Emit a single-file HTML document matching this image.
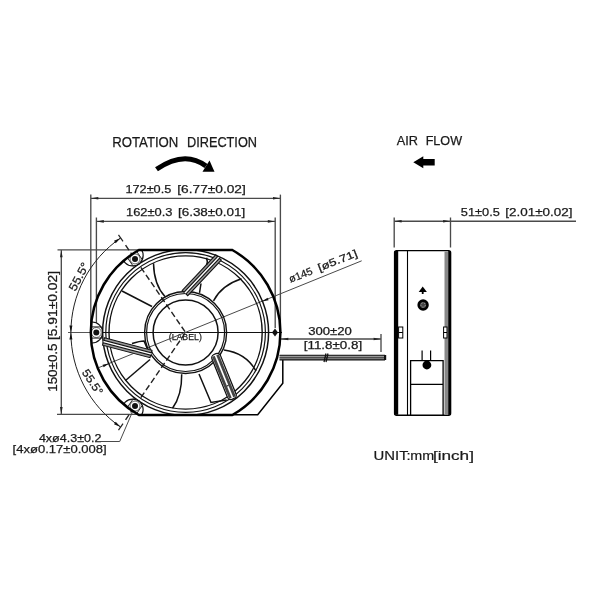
<!DOCTYPE html>
<html><head><meta charset="utf-8"><style>
html,body{margin:0;padding:0;background:#fff;}
svg{display:block;filter:grayscale(100%);}
</style></head><body>
<svg width="600" height="600" viewBox="0 0 600 600">
<rect width="600" height="600" fill="#fff"/>
<g font-family="Liberation Sans, sans-serif" fill="#1a1a1a" stroke="#1a1a1a" stroke-width="0.25">
<text x="112.25" y="146.70" font-size="14.24" textLength="66.09" lengthAdjust="spacingAndGlyphs" >ROTATION</text>
<text x="186.95" y="146.70" font-size="14.24" textLength="70.08" lengthAdjust="spacingAndGlyphs" >DIRECTION</text>
<text x="396.68" y="145.10" font-size="12.94" textLength="21.22" lengthAdjust="spacingAndGlyphs" >AIR</text>
<text x="425.67" y="145.10" font-size="12.94" textLength="36.38" lengthAdjust="spacingAndGlyphs" >FLOW</text>
<text x="125.43" y="192.80" font-size="11.48" textLength="45.85" lengthAdjust="spacingAndGlyphs" >172±0.5</text>
<text x="177.32" y="192.80" font-size="11.48" textLength="68.45" lengthAdjust="spacingAndGlyphs" >[6.77±0.02]</text>
<text x="126.02" y="215.80" font-size="11.48" textLength="46.45" lengthAdjust="spacingAndGlyphs" >162±0.3</text>
<text x="177.94" y="215.80" font-size="11.48" textLength="67.22" lengthAdjust="spacingAndGlyphs" >[6.38±0.01]</text>
<text x="460.89" y="215.75" font-size="11.56" textLength="38.95" lengthAdjust="spacingAndGlyphs" >51±0.5</text>
<text x="505.34" y="215.75" font-size="11.56" textLength="67.11" lengthAdjust="spacingAndGlyphs" >[2.01±0.02]</text>
<text x="308.25" y="335.40" font-size="10.17" textLength="43.56" lengthAdjust="spacingAndGlyphs" >300±20</text>
<text x="303.76" y="349.40" font-size="10.76" textLength="58.43" lengthAdjust="spacingAndGlyphs" >[11.8±0.8]</text>
<text x="373.50" y="460.40" font-size="13.01" textLength="37.20" lengthAdjust="spacingAndGlyphs" stroke-width="0.2">UNIT:</text>
<text x="410.35" y="460.40" font-size="13.01" textLength="23.90" lengthAdjust="spacingAndGlyphs" stroke-width="0.2">mm</text>
<text x="432.98" y="460.40" font-size="13.01" textLength="40.94" lengthAdjust="spacingAndGlyphs" stroke-width="0.2">[inch]</text>
<text x="38.91" y="442.30" font-size="10.76" textLength="62.52" lengthAdjust="spacingAndGlyphs" >4xø4.3±0.2</text>
<text x="12.57" y="453.30" font-size="11.77" textLength="94.06" lengthAdjust="spacingAndGlyphs" >[4xø0.17±0.008]</text>
<g transform="translate(56.7,600) rotate(-90)">
<text x="208.18" y="0.00" font-size="13.08" textLength="48.38" lengthAdjust="spacingAndGlyphs" >150±0.5</text>
<text x="260.02" y="0.00" font-size="13.08" textLength="68.97" lengthAdjust="spacingAndGlyphs" >[5.91±0.02]</text>
</g>
<g transform="translate(291,283.5) rotate(-21.5)">
<text x="-0.23" y="-0.80" font-size="10.47" textLength="24.69" lengthAdjust="spacingAndGlyphs" >ø145</text>
<text x="31.05" y="-0.80" font-size="10.47" textLength="41.40" lengthAdjust="spacingAndGlyphs" >[ø5.71]</text>
</g>
<g transform="translate(75.5,291.5) rotate(-62)">
<text x="-0.52" y="0.00" font-size="11.63" textLength="30.29" lengthAdjust="spacingAndGlyphs" >55.5°</text>
</g>
<g transform="translate(81.7,373) rotate(56)">
<text x="-0.48" y="0.00" font-size="11.34" textLength="28.20" lengthAdjust="spacingAndGlyphs" >55.5°</text>
</g>
<text x="168.76" y="340.00" font-size="9.88" textLength="33.09" lengthAdjust="spacingAndGlyphs" >(LABEL)</text>
</g>
<line x1="90.80" y1="194.60" x2="90.80" y2="332.00" stroke="#4a4a4a" stroke-width="1.35" />
<line x1="280.40" y1="194.60" x2="280.40" y2="332.00" stroke="#4a4a4a" stroke-width="1.35" />
<line x1="91.00" y1="198.30" x2="280.40" y2="198.30" stroke="#4a4a4a" stroke-width="1.35" />
<polygon points="91.30,198.30 98.30,197.00 98.30,199.60" fill="#222"/>
<polygon points="280.00,198.30 273.00,199.60 273.00,197.00" fill="#222"/>
<line x1="96.40" y1="217.50" x2="96.40" y2="328.00" stroke="#4a4a4a" stroke-width="1.35" />
<line x1="275.20" y1="217.50" x2="275.20" y2="328.00" stroke="#4a4a4a" stroke-width="1.35" />
<line x1="96.40" y1="221.40" x2="275.20" y2="221.40" stroke="#4a4a4a" stroke-width="1.35" />
<polygon points="96.80,221.40 103.80,220.10 103.80,222.70" fill="#222"/>
<polygon points="274.80,221.40 267.80,222.70 267.80,220.10" fill="#222"/>
<line x1="57.50" y1="249.80" x2="138.00" y2="249.80" stroke="#4a4a4a" stroke-width="1.35" />
<line x1="57.00" y1="414.40" x2="138.00" y2="414.40" stroke="#4a4a4a" stroke-width="1.35" />
<line x1="61.30" y1="250.00" x2="61.30" y2="414.40" stroke="#4a4a4a" stroke-width="1.35" />
<polygon points="61.30,250.30 62.60,257.30 60.00,257.30" fill="#222"/>
<polygon points="61.30,414.00 60.00,407.00 62.60,407.00" fill="#222"/>
<line x1="394.20" y1="217.50" x2="394.20" y2="247.50" stroke="#4a4a4a" stroke-width="1.35" />
<line x1="450.50" y1="217.50" x2="450.50" y2="247.50" stroke="#4a4a4a" stroke-width="1.35" />
<line x1="394.20" y1="221.20" x2="576.00" y2="221.20" stroke="#4a4a4a" stroke-width="1.35" />
<polygon points="394.60,221.20 401.60,219.90 401.60,222.50" fill="#222"/>
<polygon points="450.10,221.20 443.10,222.50 443.10,219.90" fill="#222"/>
<line x1="281.00" y1="339.00" x2="381.00" y2="339.00" stroke="#4a4a4a" stroke-width="1.35" />
<line x1="381.00" y1="334.00" x2="381.00" y2="352.00" stroke="#4a4a4a" stroke-width="1.35" />
<polygon points="281.30,339.00 288.30,337.70 288.30,340.30" fill="#222"/>
<polygon points="380.60,339.00 373.60,340.30 373.60,337.70" fill="#222"/>
<polyline points="101,441.5 119.7,441.5 134.7,406.7" fill="none" stroke="#4a4a4a" stroke-width="1"/>
<line x1="68.00" y1="332.50" x2="91.00" y2="332.50" stroke="#555" stroke-width="1" />
<line x1="91.00" y1="332.50" x2="282.00" y2="332.50" stroke="#111" stroke-width="1.15" />
<line x1="99.00" y1="367.50" x2="361.70" y2="260.80" stroke="#4a4a4a" stroke-width="1" />
<path d="M120.63,237.97 A114.7,114.7 0 0 0 120.63,427.03" fill="none" stroke="#222" stroke-width="1"/>
<polygon points="70.90,332.50 69.40,325.50 72.40,325.50" fill="#111"/>
<polygon points="120.63,237.97 115.71,243.17 114.01,240.70" fill="#111"/>
<polygon points="70.90,332.50 72.40,339.50 69.40,339.50" fill="#111"/>
<polygon points="120.63,427.03 114.01,424.30 115.71,421.83" fill="#111"/>
<line x1="123.01" y1="241.43" x2="118.48" y2="234.84" stroke="#222" stroke-width="1.2" />
<path d="M125.56,245.14 L185.6,332.5" fill="none" stroke="#222" stroke-width="1.4" stroke-dasharray="6 3"/>
<line x1="123.01" y1="423.57" x2="118.48" y2="430.16" stroke="#222" stroke-width="1.2" />
<path d="M125.56,419.86 L185.6,332.5" fill="none" stroke="#222" stroke-width="1.4" stroke-dasharray="6 3"/>
<polygon points="262.04,301.46 267.53,297.72 268.59,300.31" fill="#111"/>
<polygon points="109.16,363.54 103.67,367.28 102.61,364.69" fill="#111"/>
<defs><clipPath id="fr"><path d="M138.90,250 H232.30 A94.8,94.8 0 0 1 232.30,415 H138.90 A94.8,94.8 0 0 1 138.90,250 Z"/></clipPath></defs>
<g clip-path="url(#fr)">
<circle cx="185.6" cy="332.5" r="83" fill="none" stroke="#111" stroke-width="1.5"/>
<circle cx="185.6" cy="332.5" r="79.8" fill="none" stroke="#111" stroke-width="1.2"/>
<circle cx="185.6" cy="332.5" r="76.6" fill="none" stroke="#111" stroke-width="1.4"/>
<circle cx="92.10" cy="332.50" r="10.5" fill="#fff" stroke="#111" stroke-width="1.2"/>
<circle cx="96.30" cy="332.50" r="5" fill="none" stroke="#444" stroke-width="0.8"/>
<circle cx="96.30" cy="332.50" r="3" fill="#111"/>
<line x1="101.60" y1="338.10" x2="88.60" y2="338.10" stroke="#222" stroke-width="1"/>
<line x1="101.60" y1="326.90" x2="88.60" y2="326.90" stroke="#222" stroke-width="1"/>
<circle cx="132.64" cy="255.44" r="10.5" fill="#fff" stroke="#111" stroke-width="1.2"/>
<circle cx="135.02" cy="258.91" r="5" fill="none" stroke="#444" stroke-width="0.8"/>
<circle cx="135.02" cy="258.91" r="3" fill="#111"/>
<line x1="133.41" y1="266.45" x2="126.04" y2="255.73" stroke="#222" stroke-width="1"/>
<line x1="142.64" y1="260.10" x2="135.27" y2="249.39" stroke="#222" stroke-width="1"/>
<circle cx="132.64" cy="409.56" r="10.5" fill="#fff" stroke="#111" stroke-width="1.2"/>
<circle cx="135.02" cy="406.09" r="5" fill="none" stroke="#444" stroke-width="0.8"/>
<circle cx="135.02" cy="406.09" r="3" fill="#111"/>
<line x1="142.64" y1="404.90" x2="135.27" y2="415.61" stroke="#222" stroke-width="1"/>
<line x1="133.41" y1="398.55" x2="126.04" y2="409.27" stroke="#222" stroke-width="1"/>
</g>
<path d="M138.90,250 H232.30 A94.8,94.8 0 0 1 232.30,415 H138.90 A94.8,94.8 0 0 1 138.90,250 Z" fill="none" stroke="#000" stroke-width="2.5"/>
<path d="M282.8,360 V383.2 L257.7,414.8 H232" fill="none" stroke="#000" stroke-width="1.5"/>
<circle cx="185.6" cy="332.5" r="41" fill="none" stroke="#111" stroke-width="1.4"/>
<circle cx="185.6" cy="332.5" r="39" fill="none" stroke="#111" stroke-width="1.2"/>
<circle cx="185.6" cy="332.5" r="32.5" fill="none" stroke="#111" stroke-width="1.5"/>
<polygon points="221.26,260.11 187.76,295.61 182.24,290.39 215.74,254.89" fill="#fff" stroke="#111" stroke-width="0"/>
<polygon points="221.26,260.11 187.76,295.61 185.95,293.89 219.45,258.39" fill="#999" stroke="#111" stroke-width="1.1"/>
<polygon points="217.55,256.61 184.05,292.11 182.24,290.39 215.74,254.89" fill="#999" stroke="#111" stroke-width="1.1"/>
<polygon points="104.47,337.83 151.97,350.33 150.03,357.67 102.53,345.17" fill="#fff" stroke="#111" stroke-width="0"/>
<polygon points="104.47,337.83 151.97,350.33 151.33,352.74 103.83,340.24" fill="#999" stroke="#111" stroke-width="1.1"/>
<polygon points="103.17,342.76 150.67,355.26 150.03,357.67 102.53,345.17" fill="#999" stroke="#111" stroke-width="1.1"/>
<g transform="translate(215.50,355.50) rotate(67.96)">
<rect x="-1.5" y="-4.6" width="48.31" height="9.2" rx="3.5" fill="#fff" stroke="#111" stroke-width="1.3"/>
<rect x="0" y="-3.6" width="45.31" height="2.8" fill="#444"/>
<rect x="0" y="0.9" width="45.31" height="2.8" fill="#444"/>
<path d="M32.62,-0.8 V0.9" stroke="#111" stroke-width="1"/>
</g>
<path d="M153.5,263.3 Q154,285 165,296.5" fill="none" stroke="#111" stroke-width="1.5"/>
<path d="M122,291 L152,306.5" fill="none" stroke="#111" stroke-width="1.5"/>
<path d="M125.5,380.5 L150,359.5" fill="none" stroke="#111" stroke-width="1.5"/>
<path d="M132,343.5 Q140,341 144,341 L147,348" fill="none" stroke="#111" stroke-width="1.5"/>
<path d="M181.7,374.2 Q182,395 172.5,408.3" fill="none" stroke="#111" stroke-width="1.5"/>
<path d="M199,374 L211,402.5 L226.7,400" fill="none" stroke="#111" stroke-width="1.5"/>
<path d="M224,350 Q246,353 256,371" fill="none" stroke="#111" stroke-width="1.5"/>
<path d="M241.5,278.8 Q222,285 213.5,300.8" fill="none" stroke="#111" stroke-width="1.5"/>
<path d="M206.5,257.8 Q208,262 206.5,265" fill="none" stroke="#111" stroke-width="1.5"/>
<path d="M201,283.5 L199.5,292.8" fill="none" stroke="#111" stroke-width="1.5"/>
<polygon points="275,328.5 278,332.5 275,336.5 272,332.5" fill="#111"/>
<rect x="279.5" y="355" width="105.5" height="5" fill="#999"/>
<line x1="279.50" y1="355.20" x2="385.00" y2="355.20" stroke="#111" stroke-width="1.1" />
<line x1="279.50" y1="357.80" x2="385.00" y2="357.80" stroke="#222" stroke-width="0.9" />
<line x1="279.50" y1="359.90" x2="385.00" y2="359.90" stroke="#111" stroke-width="1.1" />
<path d="M326,353.5 L324,362 M328,353.5 L326,362" stroke="#111" stroke-width="1.3"/>
<rect x="384" y="355" width="2.2" height="5" fill="#111"/>
<path d="M156.5,169.3 Q184.5,149.9 206,166" fill="none" stroke="#000" stroke-width="5"/>
<polygon points="209.5,160.5 214.5,171.8 202.5,171.8" fill="#000"/>
<polygon points="413.3,162.3 423.3,156.3 423.3,159 434.7,159 434.7,165.5 423.3,165.5 423.3,168.3" fill="#000"/>
<g stroke="#000" fill="none">
<rect x="394.6" y="250.6" width="56" height="164.6" rx="2" ry="2" stroke-width="1.4"/>
<rect x="394.4" y="251" width="3.8" height="163.8" fill="#000" stroke="none"/>
<path d="M407.5,251 V415" stroke-width="1.1"/>
<rect x="444.5" y="251.5" width="3.7" height="163" fill="#888" stroke="none"/>
<rect x="448.2" y="251" width="2.6" height="163.8" fill="#000" stroke="none"/>
<rect x="398.6" y="327" width="4.2" height="11" fill="#fff" stroke-width="1"/>
<path d="M398.6,332.5 H402.8" stroke-width="1"/>
<rect x="443.6" y="327" width="3.4" height="11" fill="#fff" stroke-width="1"/>
<path d="M443.6,332.5 H447" stroke-width="1"/>
<path d="M410.6,415 V360.6 H443.1 V415 M410.6,384.4 H443.1" stroke-width="1.3"/>
<path d="M422.1,350.6 V360.6 M430.6,350.6 V360.6" stroke-width="1.2"/>
</g>
<circle cx="426.9" cy="365" r="4.4" fill="#000"/>
<circle cx="423.1" cy="305" r="4.4" fill="#444" stroke="#000" stroke-width="2.6"/>
<circle cx="423.1" cy="305" r="2.2" fill="none" stroke="#aaa" stroke-width="0.8" stroke-dasharray="1.5 1"/>
<polygon points="422.7,286.5 426.9,292 418.7,292" fill="#000"/>
<rect x="421.8" y="291" width="1.8" height="3" fill="#000"/>
</svg>
</body></html>
